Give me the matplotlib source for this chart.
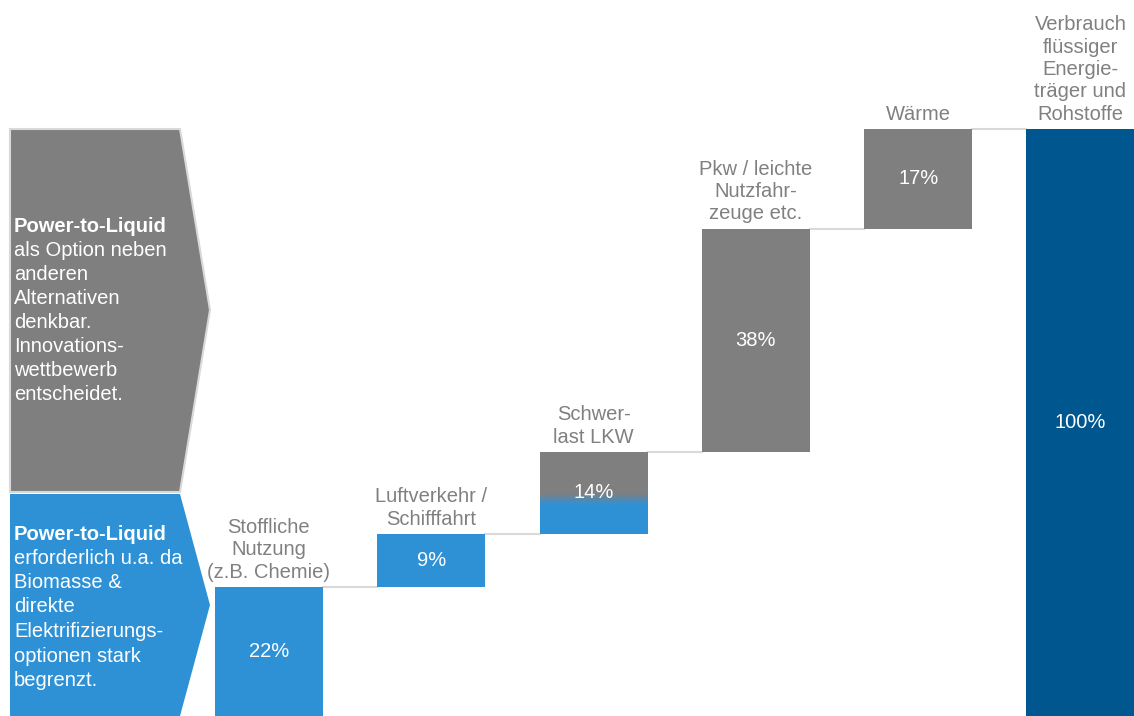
import numpy as np
import matplotlib.pyplot as plt
from matplotlib.patches import Polygon

plt.rcParams['font.family'] = ['Liberation Sans', 'DejaVu Sans']

# waterfall data (percent)
labels = ["Stoffliche\nNutzung\n(z.B. Chemie)", "Luftverkehr /\nSchifffahrt", "Schwer-\nlast LKW",
          "Pkw / leichte\nNutzfahr-\nzeuge etc.", "Wärme",
          "Verbrauch\nflüssiger\nEnergie-\nträger und\nRohstoffe"]
values = [22, 9, 14, 38, 17, 100]
# blue (PtL necessary) part of each step, rest is gray
blue_part = [22, 9, 6, 0, 0, 0]
value_text = ["22%", "9%", "14%", "38%", "17%", "100%"]

gray_txt = ["als Option neben", "anderen", "Alternativen", "denkbar.",
            "Innovations-", "wettbewerb", "entscheidet."]
blue_txt = ["erforderlich u.a. da", "Biomasse &", "direkte",
            "Elektrifizierungs-", "optionen stark", "begrenzt."]

GRAY = "#7f7f7f"
BLUE = "#2e91d6"
DARK = "#00568f"
LINE = "#d9d9d9"
TXT = "#808080"
FS = 14.5

fig = plt.figure(figsize=(11.34, 7.16), dpi=100)
ax = fig.add_axes([0, 0, 1, 1])
ax.set_xlim(-1.657, 5.33)
ax.set_ylim(0, 121.97)
ax.axis('off')

w = 0.665
bottoms = np.concatenate([[0], np.cumsum(values[:-1])])
bottoms[-1] = 0
c1 = np.array(plt.matplotlib.colors.to_rgb(BLUE))
c2 = np.array(plt.matplotlib.colors.to_rgb(GRAY))
for i, v in enumerate(values):
    b = bottoms[i]
    bp = blue_part[i]
    if i == len(values) - 1:
        ax.bar(i, v, w, bottom=0, color=DARK, zorder=2)
    else:
        if bp > 0:
            ax.bar(i, bp, w, bottom=b, color=BLUE, zorder=2)
        if v - bp > 0:
            ax.bar(i, v - bp, w, bottom=b + bp, color=GRAY, zorder=2)
        if 0 < bp < v:
            # soft transition between blue and gray
            n = 12
            for k in range(n):
                t = (k + 0.5) / n
                ax.bar(i, 2.0 / n, w, bottom=b + bp - 1.0 + 2.0 * k / n,
                       color=c1 * (1 - t) + c2 * t, zorder=3, linewidth=0)
    top = b + v
    # connector to next bar
    if i < len(values) - 1:
        ax.plot([i + w / 2, i + 1 - w / 2], [top, top], color=LINE, lw=1.5, zorder=1)
    ax.text(i, b + v / 2, value_text[i], color="white", fontsize=FS,
            ha='center', va='center', zorder=4)
    ax.text(i, top + 0.9, labels[i], color=TXT, fontsize=FS, ha='center',
            va='bottom', linespacing=1.22, zorder=4)

# left side arrow boxes in pixel coordinates
ov = fig.add_axes([0, 0, 1, 1], facecolor='none')
ov.set_xlim(0, 1134)
ov.set_ylim(716, 0)
ov.axis('off')
ov.add_patch(Polygon([(10, 129), (180, 129), (210, 310), (180, 492), (10, 492)],
                     closed=True, facecolor=GRAY, edgecolor=LINE, lw=1.5))
ov.add_patch(Polygon([(10, 494), (180, 494), (210, 605), (180, 716), (10, 716)],
                     closed=True, facecolor=BLUE, edgecolor='none'))

ov.text(14, 226, "Power-to-Liquid", color="white", fontsize=FS, fontweight='bold',
        ha='left', va='center')
for k, s in enumerate(gray_txt):
    ov.text(14, 250 + 24 * k, s, color="white", fontsize=FS, ha='left', va='center')
ov.text(14, 534, "Power-to-Liquid", color="white", fontsize=FS, fontweight='bold',
        ha='left', va='center')
for k, s in enumerate(blue_txt):
    ov.text(14, 558 + 24.5 * k, s, color="white", fontsize=FS, ha='left', va='center')

fig.savefig("out.png", dpi=100)
